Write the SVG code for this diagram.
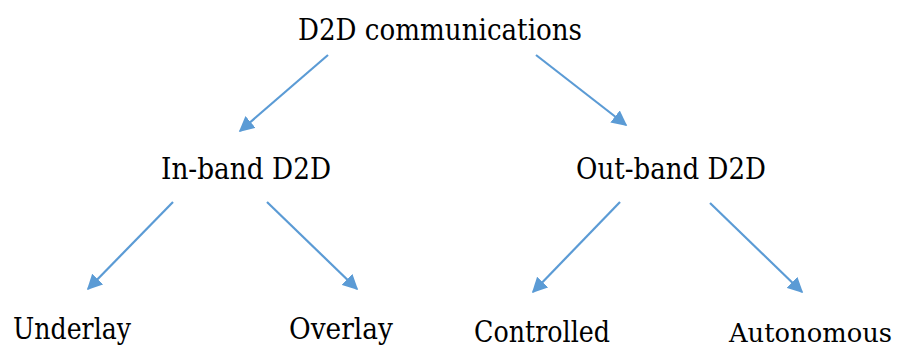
<svg xmlns="http://www.w3.org/2000/svg" width="898" height="351" viewBox="0 0 898 351">
<style>
.t{font-family:'DejaVu Serif',serif;font-size:29px;fill:#000}
.c line{stroke:#5B9BD5;stroke-width:2.2;marker-end:url(#ah)}
</style>
<defs>
<marker id="ah" viewBox="0 0 10 10" refX="9" refY="5" markerWidth="7" markerHeight="7" markerUnits="strokeWidth" orient="auto">
<path d="M0,0 L10,5 L0,10 z" fill="#5B9BD5"/>
</marker>
</defs>
<rect width="898" height="351" fill="#fff"/>
<g id="root"><text class="t" x="298" y="40" textLength="284" lengthAdjust="spacingAndGlyphs">D2D communications</text></g>
<g id="inband"><text class="t" x="161" y="179" textLength="170" lengthAdjust="spacingAndGlyphs">In-band D2D</text></g>
<g id="outband"><text class="t" x="576" y="179" textLength="190" lengthAdjust="spacingAndGlyphs">Out-band D2D</text></g>
<g id="underlay"><text class="t" x="13" y="339" textLength="118" lengthAdjust="spacingAndGlyphs">Underlay</text></g>
<g id="overlay"><text class="t" x="289" y="339" textLength="104" lengthAdjust="spacingAndGlyphs">Overlay</text></g>
<g id="controlled"><text class="t" x="474" y="342" textLength="136" lengthAdjust="spacingAndGlyphs">Controlled</text></g>
<g id="autonomous"><text class="t" style="font-size:26px" x="729" y="342" textLength="163" lengthAdjust="spacingAndGlyphs">Autonomous</text></g>
<g class="c" id="connectors">
<line x1="328" y1="55" x2="240" y2="131"/>
<line x1="536" y1="55" x2="626" y2="125"/>
<line x1="173" y1="202" x2="88" y2="289"/>
<line x1="267" y1="202" x2="357" y2="289"/>
<line x1="620" y1="202" x2="533" y2="292"/>
<line x1="710" y1="203" x2="802" y2="292"/>
</g>
</svg>
